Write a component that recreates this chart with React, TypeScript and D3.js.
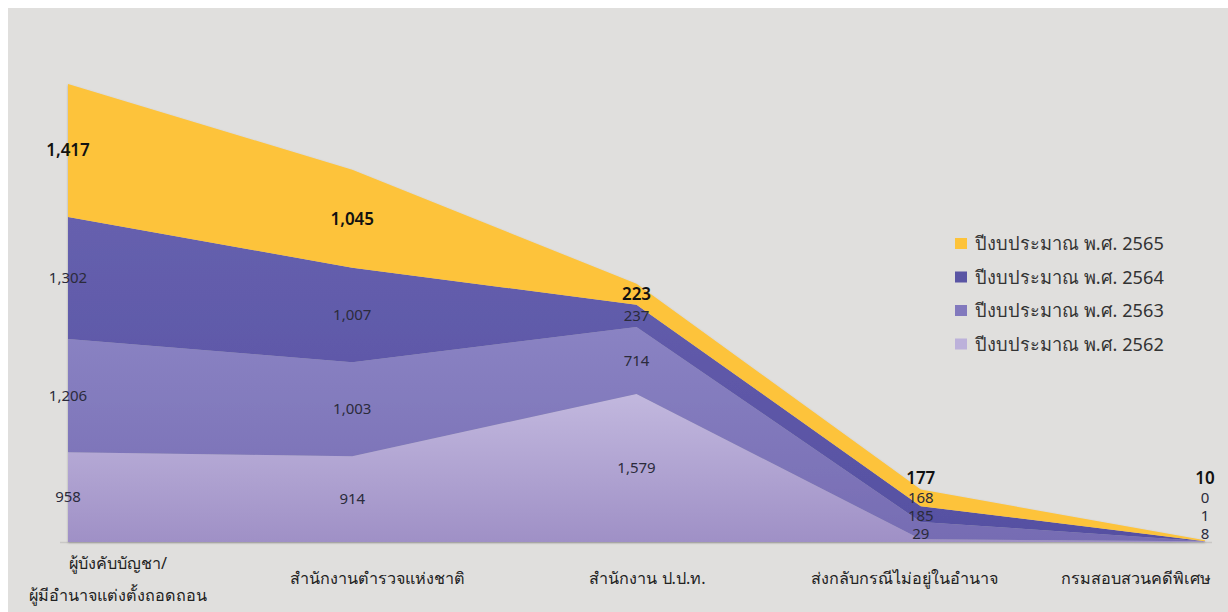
import React from "react";
import * as d3 from "d3";

const categories = [
  "ผู้บังคับบัญชา/|ผู้มีอำนาจแต่งตั้งถอดถอน",
  "สำนักงานตำรวจแห่งชาติ",
  "สำนักงาน ป.ป.ท.",
  "ส่งกลับกรณีไม่อยู่ในอำนาจ",
  "กรมสอบสวนคดีพิเศษ",
];
const seriesNames = ["y2562", "y2563", "y2564", "y2565"];
const legendLabels = [
  "ปีงบประมาณ พ.ศ. 2565",
  "ปีงบประมาณ พ.ศ. 2564",
  "ปีงบประมาณ พ.ศ. 2563",
  "ปีงบประมาณ พ.ศ. 2562",
];
const y2562 = [958, 914, 1579, 29, 8];
const y2563 = [1206, 1003, 714, 185, 1];
const y2564 = [1302, 1007, 237, 168, 0];
const y2565 = [1417, 1045, 223, 177, 10];

const W = 1228;
const H = 612;
const baseY = 542;
const catLabelDx = [50, 25, 11, -16, -69];

const colorsTop = ["#c2b8de", "#8a83c3", "#6660ae", "#fdc33a"];
const colorsBot = ["#9f90c6", "#766cb3", "#5650a2", "#fdc33a"];
const legendColors = ["#fdc33a", "#5a55a4", "#8279bd", "#bcb1da"];

export default function App() {
  const rows = categories.map((c, i) => ({
    cat: c,
    y2562: y2562[i],
    y2563: y2563[i],
    y2564: y2564[i],
    y2565: y2565[i],
  }));
  const stack = d3.stack<any>().keys(seriesNames)(rows);
  const x = d3.scalePoint<string>().domain(categories).range([68, 1205]);
  const y = d3.scaleLinear().domain([0, 5000]).range([baseY, baseY - 5000 * (458 / 4883)]);
  const area = d3
    .area<any>()
    .x((d) => x(d.data.cat) as number)
    .y0((d) => y(d[0]))
    .y1((d) => y(d[1]));

  const labels: { x: number; y: number; text: string; top: boolean }[] = [];
  categories.forEach((c, i) => {
    let prev = Infinity;
    stack.forEach((s, k) => {
      const d = s[i];
      const mid = (y(d[0]) + y(d[1])) / 2;
      let ly = Math.min(mid, baseY - 8);
      const gap = k === 3 ? 20 : 18;
      ly = Math.min(ly, prev - gap);
      prev = ly;
      labels.push({
        x: x(c) as number,
        y: ly,
        text: d3.format(",")(d.data[seriesNames[k]]),
        top: k === 3,
      });
    });
  });

  const font = "'Noto Sans', 'DejaVu Sans', sans-serif";

  return (
    <svg
      width={W}
      height={H}
      style={{ position: "absolute", left: 0, top: 0, display: "block" }}
    >
      <defs>
        {seriesNames.map((s, k) => (
          <linearGradient key={s} id={"g" + k} x1="0" y1="0" x2="0" y2="1">
            <stop offset="0%" stopColor={colorsTop[k]} />
            <stop offset="100%" stopColor={colorsBot[k]} />
          </linearGradient>
        ))}
        <filter id="sh" x="-5%" y="-5%" width="110%" height="115%">
          <feDropShadow dx="0" dy="1" stdDeviation="1.2" floodColor="#000" floodOpacity="0.25" />
        </filter>
      </defs>
      <rect x={8} y={8} width={W - 8} height={H - 8} fill="#e0dfdd" />
      <line x1={60} x2={1212} y1={baseY + 0.5} y2={baseY + 0.5} stroke="#c9c8c6" strokeWidth={1.5} />
      <g filter="url(#sh)">
        {stack.map((s, k) => (
          <path key={k} d={area(s) as string} fill={"url(#g" + k + ")"} />
        ))}
      </g>
      {labels.map((l, i) => (
        <text
          key={i}
          x={l.x}
          y={l.y}
          dy="0.35em"
          textAnchor="middle"
          fontFamily={font}
          fontSize={l.top ? 17 : 15}
          fontWeight={l.top ? 600 : 400}
          fill={l.top ? "#111" : "#2b2b3b"}
        >
          {l.text}
        </text>
      ))}
      {categories.map((c, i) => {
        const parts = c.split("|");
        const cx = (x(c) as number) + catLabelDx[i];
        return parts.map((p, j) => (
          <text
            key={c + j}
            x={cx}
            y={parts.length > 1 ? 563 + j * 32 : 578}
            dy="0.35em"
            textAnchor="middle"
            fontFamily={font}
            fontSize={16.2}
            fill="#222"
          >
            {p}
          </text>
        ));
      })}
      {legendLabels.map((l, i) => (
        <g key={l} transform={`translate(955, ${238 + i * 33.5})`}>
          <rect width={12} height={11} fill={legendColors[i]} />
          <text x={20} y={6} dy="0.35em" fontFamily={font} fontSize={18.2} fill="#333">
            {l}
          </text>
        </g>
      ))}
    </svg>
  );
}
